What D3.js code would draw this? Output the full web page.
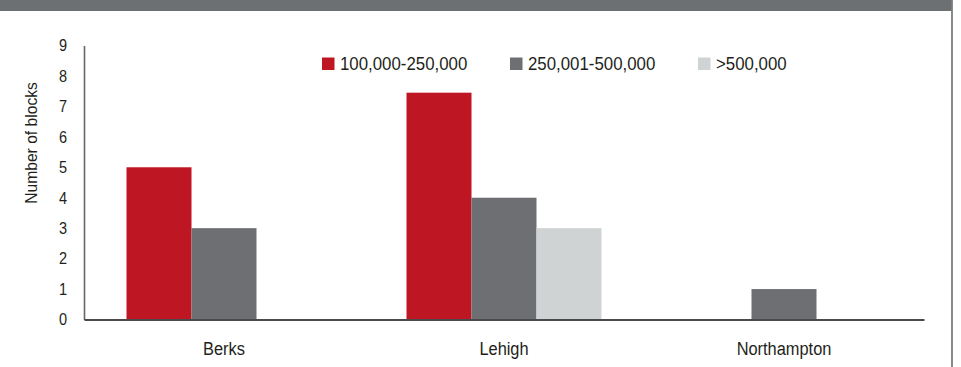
<!DOCTYPE html>
<html>
<head>
<meta charset="utf-8">
<script src="https://cdn.jsdelivr.net/npm/d3@7"></script>
<style>
  html, body { margin: 0; padding: 0; background: #fff; }
  svg { display: block; }
  text { font-family: "Liberation Sans Narrow", "Arial Narrow", "Liberation Sans", sans-serif; fill: #231f20; }
</style>
</head>
<body>
<svg id="chart" width="961" height="367"></svg>
<script>
// Counties and price bands
const counties = ["Berks", "Lehigh", "Northampton"];
const bands = ["100,000-250,000", "250,001-500,000", ">500,000"];
const bandColors = ["#be1622", "#6d6f73", "#d0d3d4"];

// Number of blocks per county, one array per price band
const lowBand = [5, 7.45, 0];
const midBand = [3, 4, 1];
const highBand = [0, 3, 0];
const seriesValues = [lowBand, midBand, highBand];

const yTicks = [0, 1, 2, 3, 4, 5, 6, 7, 8, 9];

const svg = d3.select("#chart");
const W = 961, H = 367;
const margin = { left: 84, right: 37, top: 45.5, bottom: 47.5 };

// Squeeze a text element horizontally to give a condensed face
function condense(sel, factor) {
  sel.each(function () {
    const len = this.getComputedTextLength();
    d3.select(this).attr("textLength", len * factor).attr("lengthAdjust", "spacingAndGlyphs");
  });
}

// Header strip and right frame line
svg.append("rect").attr("x", 0).attr("y", 0).attr("width", 952).attr("height", 11).attr("fill", "#6d7073");
svg.append("line").attr("x1", 952).attr("x2", 952).attr("y1", 0).attr("y2", H)
  .attr("stroke", "#7b7e79").attr("stroke-width", 1.8);

const x0 = d3.scaleBand().domain(counties).range([margin.left, W - margin.right]).paddingInner(0.3036).paddingOuter(0.1518);
const x1 = d3.scaleBand().domain(d3.range(bands.length)).range([0, x0.bandwidth()]);
const y = d3.scaleLinear().domain([0, 9]).range([H - margin.bottom, margin.top]);

// Bars
const g = svg.append("g");
counties.forEach((c, ci) => {
  seriesValues.forEach((vals, si) => {
    const v = vals[ci];
    if (!v) return;
    g.append("rect")
      .attr("x", x0(c) + x1(si))
      .attr("y", y(v))
      .attr("width", x1.bandwidth())
      .attr("height", y(0) - y(v))
      .attr("fill", bandColors[si]);
  });
});

// Y axis
const yAxis = svg.append("g").attr("transform", `translate(${margin.left},0)`)
  .call(d3.axisLeft(y).tickValues(yTicks).tickSize(0).tickPadding(17));
yAxis.select(".domain").attr("stroke", "#666").attr("stroke-width", 1.6);
yAxis.selectAll("text").attr("font-size", 16.5).attr("fill", "#231f20")
  .style("font-family", '"Liberation Sans Narrow", "Arial Narrow", sans-serif')
  .call(condense, 0.88);

// X axis
const xAxis = svg.append("g").attr("transform", `translate(0,${y(0)})`)
  .call(d3.axisBottom(x0).tickSize(0).tickPadding(22.5));
xAxis.select(".domain").attr("stroke", "#4a4a4a").attr("stroke-width", 1.8);
xAxis.selectAll("text").attr("font-size", 18).attr("fill", "#231f20")
  .style("font-family", '"Liberation Sans Narrow", "Arial Narrow", sans-serif')
  .call(condense, 0.91);

// Y axis title
svg.append("text")
  .attr("transform", `translate(37,143) rotate(-90)`)
  .attr("text-anchor", "middle")
  .attr("font-size", 17)
  .text("Number of blocks")
  .call(condense, 0.92);

// Legend
const legendX = [322, 510, 698];
const legend = svg.append("g");
bands.forEach((b, i) => {
  legend.append("rect").attr("x", legendX[i]).attr("y", 57.5).attr("width", 12.5).attr("height", 12.5).attr("fill", bandColors[i]);
  legend.append("text").attr("x", legendX[i] + 18).attr("y", 70).attr("font-size", 18).text(b)
    .call(condense, 0.935);
});
</script>
</body>
</html>
